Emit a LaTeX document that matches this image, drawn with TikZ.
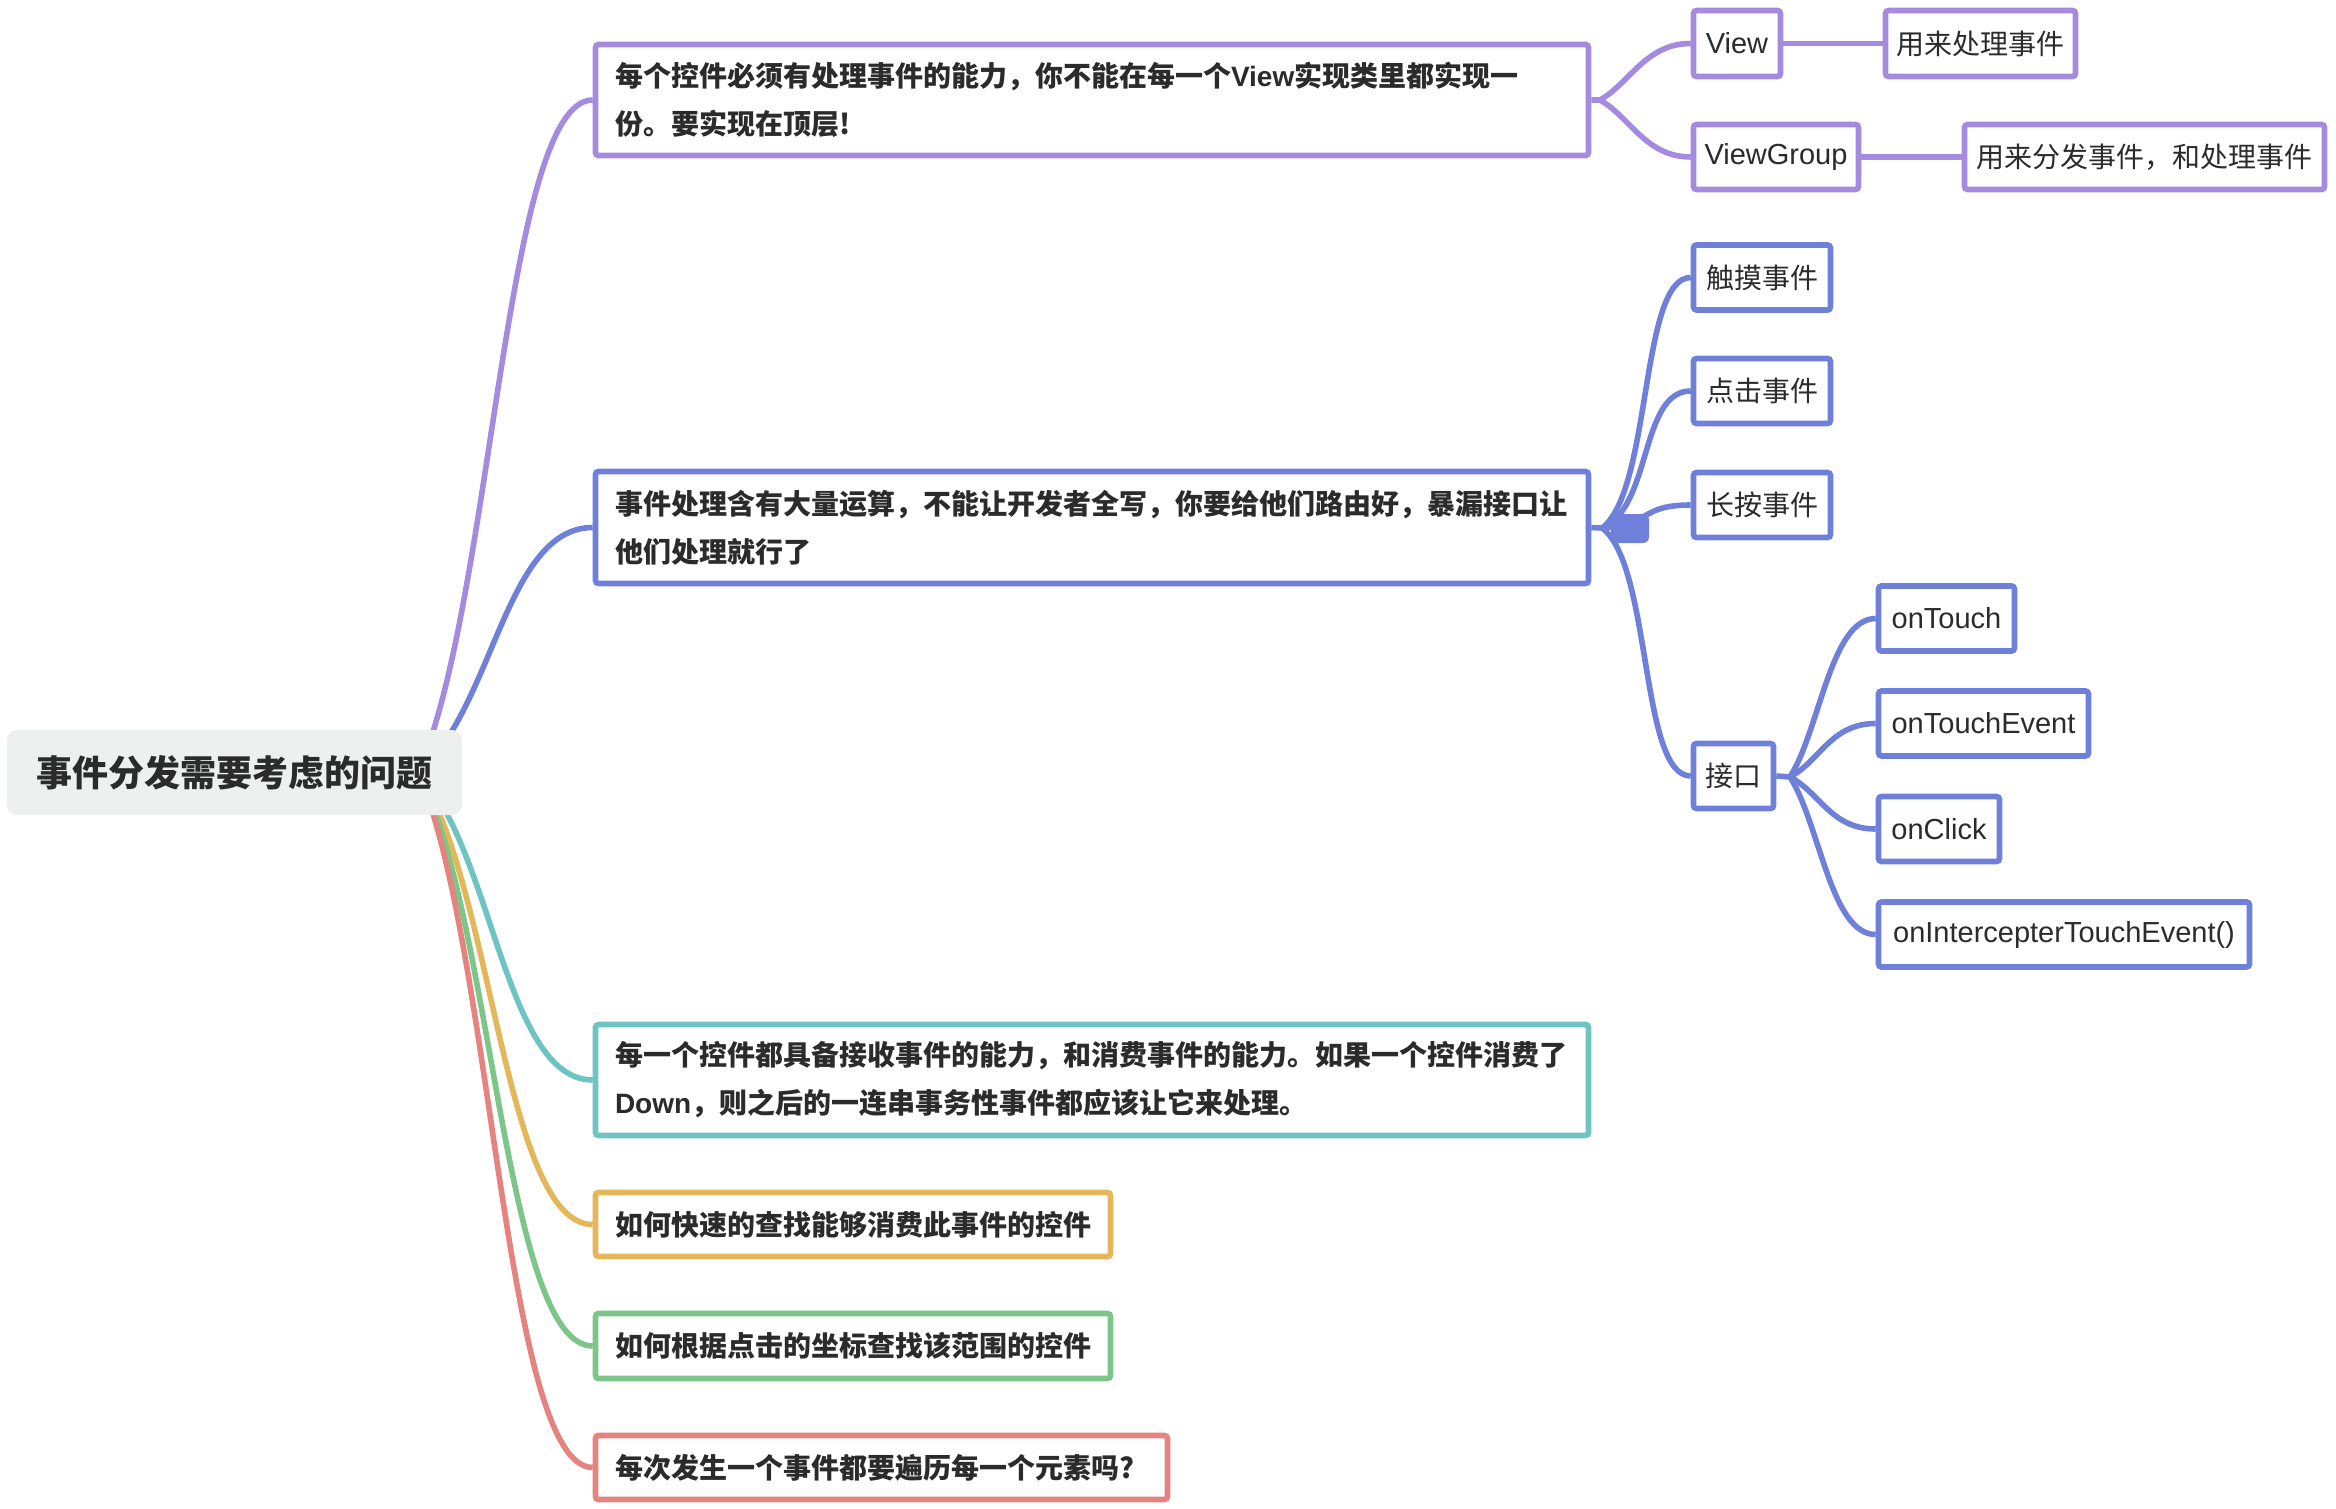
\documentclass[tikz,border=0pt]{standalone}
\usepackage{fontspec}
\setmainfont{Noto Sans CJK SC}
\newfontfamily\lat{Liberation Sans}
\usetikzlibrary{backgrounds}
\definecolor{cpur}{HTML}{A48BDF}
\definecolor{cblu}{HTML}{6E80DA}
\definecolor{ctea}{HTML}{6DC4C2}
\definecolor{cyel}{HTML}{E3B75A}
\definecolor{cgre}{HTML}{7CC68A}
\definecolor{cred}{HTML}{E4837F}
\definecolor{rootbg}{HTML}{EEF0F0}
\definecolor{ink}{HTML}{2B2B2B}
\begin{document}
\begin{tikzpicture}[x=0.5pt,y=-0.5pt,
  rootnode/.style={fill=rootbg, rounded corners=5pt, minimum width=227.5pt, minimum height=42.5pt, inner sep=0pt, text=ink, font=\bfseries\fontsize{18}{20}\selectfont},
  box/.style={draw, line width=2.8pt, rounded corners=1.5pt, fill=white, text=ink, inner sep=0pt, minimum height=32.5pt},
  mainbox/.style={box, font=\bfseries\fontsize{14}{24}\selectfont, align=left, inner xsep=9.75pt},
  kid/.style={box, font=\fontsize{14}{17}\selectfont, align=center},
  latkid/.style={box, font=\lat\fontsize{14.5}{17}\selectfont, align=center},
  link/.style={line width=2.8pt}]
\useasboundingbox (0,0) rectangle (2336,1509);

% root
\node[rootnode] (root) at (234.5,772.5) {事件分发需要考虑的问题};

% main branches
\node[mainbox, draw=cpur, text width=477pt, minimum height=55.5pt] (b1) at (1092,100)
  {每个控件必须有处理事件的能力，你不能在每一个{\lat View}实现类里都实现一\\份。要实现在顶层!};
\node[mainbox, draw=cblu, text width=477pt, minimum height=56pt] (b2) at (1092,527.5)
  {事件处理含有大量运算，不能让开发者全写，你要给他们路由好，暴漏接口让\\他们处理就行了};
\node[mainbox, draw=ctea, text width=477pt, minimum height=55.5pt] (b3) at (1092,1080)
  {每一个控件都具备接收事件的能力，和消费事件的能力。如果一个控件消费了\\{\lat Down}，则之后的一连串事务性事件都应该让它来处理。};
\node[mainbox, draw=cyel, text width=238pt, minimum height=32pt] (b4) at (853,1224.5)
  {如何快速的查找能够消费此事件的控件};
\node[mainbox, draw=cgre, text width=238pt, minimum height=32.5pt] (b5) at (853,1346)
  {如何根据点击的坐标查找该范围的控件};
\node[mainbox, draw=cred, text width=266.5pt, minimum height=32pt] (b6) at (881.5,1467.5)
  {每次发生一个事件都要遍历每一个元素吗?};

% branch 1 children
\node[latkid, draw=cpur, minimum width=43.5pt, minimum height=33pt] (view) at (1737,43.5) {View};
\node[kid, draw=cpur, minimum width=95pt, minimum height=33pt] (r1) at (1980.5,43.5) {用来处理事件};
\node[latkid, draw=cpur, minimum width=82.5pt] (vg) at (1776,157) {ViewGroup};
\node[kid, draw=cpur, minimum width=180pt] (r2) at (2144.5,157) {用来分发事件，和处理事件};

% branch 2 children
\node[kid, draw=cblu, minimum width=68.5pt] (k1) at (1762,277.5) {触摸事件};
\node[kid, draw=cblu, minimum width=68.5pt] (k2) at (1762,391) {点击事件};
\node[kid, draw=cblu, minimum width=68.5pt] (k3) at (1762,505) {长按事件};
\node[kid, draw=cblu, minimum width=40pt] (k4) at (1733.5,776) {接口};

% interface children
\node[latkid, draw=cblu, minimum width=68pt] (i1) at (1946.5,618.5) {onTouch};
\node[latkid, draw=cblu, minimum width=105pt] (i2) at (1983.5,723.5) {onTouchEvent};
\node[latkid, draw=cblu, minimum width=60.5pt] (i3) at (1939,829) {onClick};
\node[latkid, draw=cblu, minimum width=185.5pt] (i4) at (2064,934.5) {onIntercepterTouchEvent()};

\begin{pgfonlayer}{background}
  \coordinate (ro) at (418,772);
  \draw[link,cpur] (ro) .. controls +(75,-168) and +(-88,0) .. (b1.west);
  \draw[link,cblu] (ro) .. controls +(75,-61) and +(-88,0) .. (b2.west);
  \draw[link,ctea] (ro) .. controls +(75,77) and +(-88,0) .. (b3.west);
  \draw[link,cyel] (ro) .. controls +(75,113) and +(-88,0) .. (b4.west);
  \draw[link,cgre] (ro) .. controls +(75,143.5) and +(-88,0) .. (b5.west);
  \draw[link,cred] (ro) .. controls +(75,174) and +(-88,0) .. (b6.west);

  \coordinate (j1) at (1600,100);
  \draw[link,cpur] (b1.east) -- (j1) .. controls +(30,-17) and +(-45,0) .. (view.west);
  \draw[link,cpur] (j1) .. controls +(30,17) and +(-45,0) .. (vg.west);
  \draw[link,cpur] (view.east) -- (r1.west);
  \draw[link,cpur] (vg.east) -- (r2.west);

  \coordinate (j2) at (1602,528);
  \draw[link,cblu] (b2.east) -- (j2) .. controls +(50,-37.6) and +(-51,0) .. (k1.west);
  \draw[link,cblu] (j2) .. controls +(50,-20.6) and +(-51,0) .. (k2.west);
  \draw[link,cblu] (j2) .. controls +(50,-3.5) and +(-51,0) .. (k3.west);
  \draw[link,cblu] (j2) .. controls +(50,37.2) and +(-51,0) .. (k4.west);

  \coordinate (j3) at (1790,777);
  \draw[link,cblu] (k4.east) -- (j3) .. controls +(30,-47.6) and +(-45,0) .. (i1.west);
  \draw[link,cblu] (j3) .. controls +(30,-16) and +(-45,0) .. (i2.west);
  \draw[link,cblu] (j3) .. controls +(30,15.6) and +(-45,0) .. (i3.west);
  \draw[link,cblu] (j3) .. controls +(30,47.3) and +(-45,0) .. (i4.west);

  \fill[cblu, rounded corners=3pt] (1611,514) rectangle (1649,543);
\end{pgfonlayer}
\end{tikzpicture}
\end{document}
